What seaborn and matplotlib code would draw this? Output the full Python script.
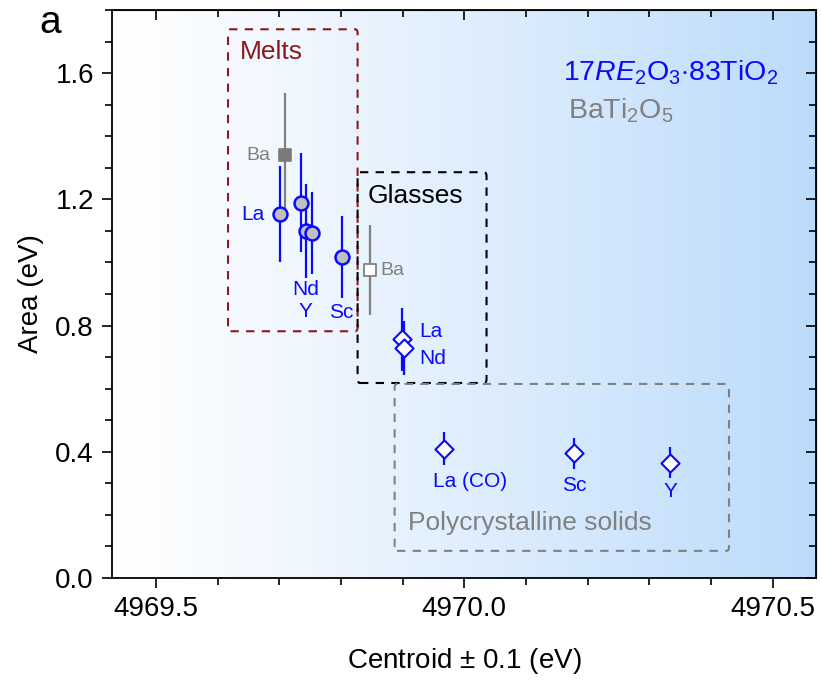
import numpy as np
import matplotlib
matplotlib.use('Agg')
import matplotlib.pyplot as plt
from matplotlib.patches import FancyBboxPatch
from matplotlib.ticker import MultipleLocator
import pandas as pd
import seaborn as sns

# melts (17RE2O3-83TiO2)
melt_labels = ['La', '', 'Nd', '', 'Sc']
melt_x = [4969.701, 4969.735, 4969.743, 4969.753, 4969.801]
melt_y = [1.153, 1.19, 1.10, 1.092, 1.018]
melt_err = [0.152, 0.157, 0.15, 0.13, 0.13]

# BaTi2O5 melt and glass
ba_x = [4969.709, 4969.847]
ba_y = [1.34, 0.976]
ba_err = [0.196, 0.143]

# glasses
glass_labels = ['La', 'Nd']
glass_x = [4969.899, 4969.902]
glass_y = [0.757, 0.73]
glass_err = [0.10, 0.086]

# polycrystalline solids
poly_labels = ['La (CO)', 'Sc', 'Y']
poly_x = [4969.967, 4970.177, 4970.334]
poly_y = [0.41, 0.395, 0.366]
poly_err = [0.053, 0.05, 0.048]

sns.set_style('ticks')
plt.rcParams['font.family'] = ['Liberation Sans', 'DejaVu Sans']
plt.rcParams['mathtext.fontset'] = 'custom'
plt.rcParams['mathtext.rm'] = 'Liberation Sans'
plt.rcParams['mathtext.it'] = 'Liberation Sans:italic'
plt.rcParams['text.color'] = 'black'
plt.rcParams['axes.labelcolor'] = 'black'
plt.rcParams['xtick.color'] = 'black'
plt.rcParams['ytick.color'] = 'black'

blue = '#0a0aff'
gray = '#808080'
dred = '#8b1a1a'

fig = plt.figure(figsize=(8.22, 6.82), dpi=100)
ax = fig.add_axes([0.1363, 0.1525, 0.8564, 0.8328])
xlo, xhi, ylo, yhi = 4969.429, 4970.57, 0.0, 1.80

# background gradient white -> light blue
grad = np.linspace(0, 1, 256) ** 1.1
c0 = np.array([1.0, 1.0, 1.0])
c1 = np.array([188, 219, 251]) / 255
img = c0[None, :] + (c1 - c0)[None, :] * grad[:, None]
ax.imshow(img[None, :, :], extent=[xlo, xhi, ylo, yhi], aspect='auto', zorder=0)

# error bars
ax.errorbar(melt_x, melt_y, yerr=melt_err, fmt='none', ecolor=blue, elinewidth=1.6, zorder=2)
ax.errorbar(ba_x, ba_y, yerr=ba_err, fmt='none', ecolor=gray, elinewidth=1.6, zorder=2)
ax.errorbar(glass_x, glass_y, yerr=glass_err, fmt='none', ecolor=blue, elinewidth=1.6, zorder=2)
ax.errorbar(poly_x, poly_y, yerr=poly_err, fmt='none', ecolor=blue, elinewidth=1.6, zorder=2)

# markers
sns.scatterplot(x=melt_x, y=melt_y, ax=ax, marker='o', s=100, color='#c0c0c0',
                edgecolor=blue, linewidth=1.8, zorder=3)
sns.scatterplot(x=ba_x[:1], y=ba_y[:1], ax=ax, marker='s', s=85, color='#7a7a7a',
                edgecolor='#7a7a7a', linewidth=1.2, zorder=3)
sns.scatterplot(x=ba_x[1:], y=ba_y[1:], ax=ax, marker='s', s=75, color='white',
                edgecolor=gray, linewidth=1.3, zorder=3)
sns.scatterplot(x=glass_x + poly_x, y=glass_y + poly_y, ax=ax, marker='D', s=85,
                color='white', edgecolor=blue, linewidth=1.5, zorder=3)

# point labels
fs = 15
ax.text(4969.658, 1.153, 'La', color=blue, fontsize=fs, ha='center', va='center')
ax.text(4969.743, 0.915, 'Nd', color=blue, fontsize=fs, ha='center', va='center')
ax.text(4969.743, 0.845, 'Y', color=blue, fontsize=fs, ha='center', va='center')
ax.text(4969.8, 0.84, 'Sc', color=blue, fontsize=fs, ha='center', va='center')
ax.text(4969.666, 1.34, 'Ba', color=gray, fontsize=14, ha='center', va='center')
ax.text(4969.884, 0.976, 'Ba', color=gray, fontsize=14, ha='center', va='center')
ax.text(4969.945, 0.78, 'La', color=blue, fontsize=fs, ha='center', va='center')
ax.text(4969.948, 0.697, 'Nd', color=blue, fontsize=fs, ha='center', va='center')
ax.text(4970.009, 0.305, 'La (CO)', color=blue, fontsize=fs, ha='center', va='center')
ax.text(4970.178, 0.292, 'Sc', color=blue, fontsize=fs, ha='center', va='center')
ax.text(4970.334, 0.273, 'Y', color=blue, fontsize=fs, ha='center', va='center')

# group boxes
def box(x0, x1, y0, y1, col):
    ax.add_patch(FancyBboxPatch((x0, y0), x1 - x0, y1 - y0, boxstyle='round,pad=0,rounding_size=0.004',
                                fill=False, edgecolor=col, linestyle=(0, (4, 3.5)), linewidth=1.5,
                                mutation_aspect=3, zorder=1))

box(4969.617, 4969.827, 0.782, 1.739, dred)
box(4969.827, 4970.036, 0.618, 1.286, 'black')
box(4969.887, 4970.429, 0.086, 0.615, gray)
ax.text(4969.688, 1.666, 'Melts', color=dred, fontsize=19, ha='center', va='center')
ax.text(4969.920, 1.212, 'Glasses', color='black', fontsize=19, ha='center', va='center')
ax.text(4970.107, 0.175, 'Polycrystalline solids', color=gray, fontsize=19, ha='center', va='center')

ax.text(4970.335, 1.60, r'17$\mathit{RE}_{2}$O$_{3}$$\cdot$83TiO$_{2}$', color=blue, fontsize=20.5,
        ha='center', va='center')
ax.text(4970.254, 1.48, r'BaTi$_{2}$O$_{5}$', color=gray, fontsize=20.5, ha='center', va='center')

fig.text(0.061, 0.967, 'a', fontsize=28, ha='center', va='center')

ax.set_xlim(xlo, xhi)
ax.set_ylim(ylo, yhi)
ax.set_yticks([0.0, 0.4, 0.8, 1.2, 1.6])
ax.set_xticks([4969.5, 4970.0, 4970.5])
ax.xaxis.set_minor_locator(MultipleLocator(0.1))
ax.yaxis.set_minor_locator(MultipleLocator(0.1))
ax.set_yticklabels(['0.0', '0.4', '0.8', '1.2', '1.6'])
ax.set_xticklabels(['4969.5', '4970.0', '4970.5'])
ax.tick_params(which='both', labelsize=20, width=1.2, color='black')
ax.tick_params(which='major', length=7, pad=6)
ax.tick_params(which='minor', length=5)
ax.tick_params(which='both', direction='out', top=False, right=False)
ax.set_xlabel('Centroid $\\pm$ 0.1 (eV)', fontsize=20, labelpad=17)
ax.set_ylabel('Area (eV)', fontsize=20, labelpad=8)
for sp in ax.spines.values():
    sp.set_linewidth(1.3)
    sp.set_color('black')

# inward ticks on top and right
axt = ax.secondary_xaxis('top')
axt.set_xticks([4969.5, 4970.0, 4970.5])
axt.xaxis.set_minor_locator(MultipleLocator(0.1))
axt.tick_params(which='both', direction='in', labeltop=False, width=1.2)
axt.tick_params(which='major', length=7)
axt.tick_params(which='minor', length=5)
axr = ax.secondary_yaxis('right')
axr.set_yticks([0.0, 0.4, 0.8, 1.2, 1.6])
axr.yaxis.set_minor_locator(MultipleLocator(0.1))
axr.tick_params(which='both', direction='in', labelright=False, width=1.2)
axr.tick_params(which='major', length=7)
axr.tick_params(which='minor', length=5)

fig.savefig('out.png', dpi=100)
